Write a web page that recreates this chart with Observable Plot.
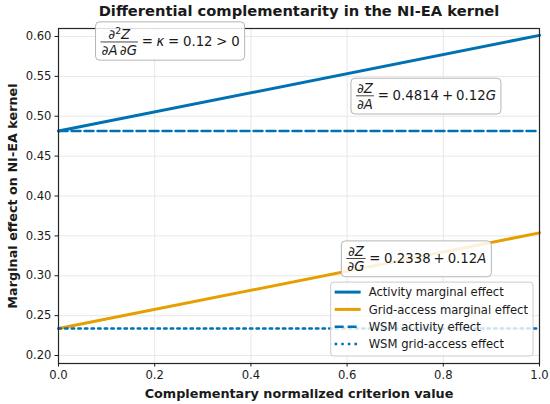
<!DOCTYPE html>
<html><head><meta charset="utf-8">
<script src="https://cdn.jsdelivr.net/npm/d3@7"></script>
<script src="https://cdn.jsdelivr.net/npm/@observablehq/plot@0.6"></script>
<style>
html,body{margin:0;padding:0;background:#fff;}
#chart svg{display:block;}
</style></head><body><div id="chart"></div>
<script>
// ---- data ----
const xValues = [0, 1];
const activityEffect = [0.4814, 0.6014];
const gridAccessEffect = [0.2338, 0.3538];
const wsmActivityEffect = [0.4814, 0.4814];
const wsmGridAccessEffect = [0.2338, 0.2338];
const xTicks = [0, 0.2, 0.4, 0.6, 0.8, 1.0];
const yTicks = [0.20, 0.25, 0.30, 0.35, 0.40, 0.45, 0.50, 0.55, 0.60];
const seriesNames = ["Activity marginal effect", "Grid-access marginal effect", "WSM activity effect", "WSM grid-access effect"];
const seriesValues = [activityEffect, gridAccessEffect, wsmActivityEffect, wsmGridAccessEffect];
const title = "Differential complementarity in the NI-EA kernel";
const xLabel = "Complementary normalized criterion value";
const yLabel = "Marginal effect on NI-EA kernel";
// annotation anchors (data coordinates) and math content
const annotations = [
  {x: 0.233, y: 0.5925, sup: true,
   num: [{t: "∂"}, {t: "2", sup: true}, {t: "Z", it: true}],
   den: [{t: "∂"}, {t: "A", it: true}, {t: "∂", dx: 0.17}, {t: "G", it: true}],
   rest: [{t: "=", dx: 0.28}, {t: "κ", it: true, dx: 0.28}, {t: "=", dx: 0.28}, {t: "0.12", dx: 0.28}, {t: ">", dx: 0.28}, {t: "0", dx: 0.28}]},
  {x: 0.765, y: 0.525,
   num: [{t: "∂"}, {t: "Z", it: true}],
   den: [{t: "∂"}, {t: "A", it: true}],
   rest: [{t: "=", dx: 0.28}, {t: "0.4814", dx: 0.28}, {t: "+", dx: 0.22}, {t: "0.12", dx: 0.22}, {t: "G", it: true}]},
  {x: 0.745, y: 0.321,
   num: [{t: "∂"}, {t: "Z", it: true}],
   den: [{t: "∂"}, {t: "G", it: true}],
   rest: [{t: "=", dx: 0.28}, {t: "0.2338", dx: 0.28}, {t: "+", dx: 0.22}, {t: "0.12", dx: 0.22}, {t: "A", it: true}]}
];

// ---- styles ----
const FONT = '"DejaVu Sans", sans-serif';
const BLUE = "#0072B2", ORANGE = "#E69F00";
const styles = [
  {stroke: BLUE, strokeWidth: 3},
  {stroke: ORANGE, strokeWidth: 3},
  {stroke: BLUE, strokeWidth: 2.5, strokeDasharray: "9,4"},
  {stroke: BLUE, strokeWidth: 2.5, strokeDasharray: "2.5,4.1"}
];

const ctx = document.createElement("canvas").getContext("2d");
function segWidth(s, fs) {
  const size = s.sup ? fs * 0.7 : fs;
  ctx.font = `${s.it ? "italic " : ""}${size}px "DejaVu Sans"`;
  return ctx.measureText(s.t).width + (s.dx || 0) * fs;
}
function segsWidth(segs, fs) { return d3.sum(segs, s => segWidth(s, fs)); }
function drawSegs(g, x, y, segs, fs) {
  let cx = x;
  for (const s of segs) {
    cx += (s.dx || 0) * fs;
    const size = s.sup ? fs * 0.7 : fs;
    const t = g.append("text").attr("x", cx).attr("y", s.sup ? y - fs * 0.42 : y)
      .attr("text-anchor", "start")
      .attr("font-size", size).attr("font-family", FONT).attr("fill", "#1a1a1a").text(s.t);
    if (s.it) t.attr("font-style", "italic");
    cx += segWidth({...s, dx: 0}, fs);
  }
}

function annotationMark(index, scales) {
  const g = d3.create("svg:g");
  const fs = 13.3, pad = 5;
  for (const a of annotations) {
    const cx = scales.x(a.x), cy = scales.y(a.y);
    const numW = segsWidth(a.num, fs), denW = segsWidth(a.den, fs);
    const fracW = Math.max(numW, denW) + 2;
    const restW = segsWidth(a.rest, fs);
    const totalW = fracW + restW;
    const left = cx - totalW / 2;
    const top = cy - 2.5 - 0.76 * fs - pad - (a.sup ? 2.5 : 0);
    const bottom = cy + 0.73 * fs + 3.5 + pad;
    g.append("rect").attr("x", left - pad).attr("y", top).attr("width", totalW + 2 * pad)
      .attr("height", bottom - top).attr("rx", 4).attr("fill", "white").attr("fill-opacity", 0.85)
      .attr("stroke", "#b5b5b5").attr("stroke-width", 1);
    drawSegs(g, left + (fracW - numW) / 2, cy - 2.5, a.num, fs);
    drawSegs(g, left + (fracW - denW) / 2, cy + 0.73 * fs + 3, a.den, fs);
    g.append("line").attr("x1", left).attr("x2", left + fracW).attr("y1", cy).attr("y2", cy)
      .attr("stroke", "#1a1a1a").attr("stroke-width", 0.8);
    drawSegs(g, left + fracW, cy + 0.31 * fs, a.rest, fs);
  }
  return g.node();
}

function legendMark(index, scales, values, dims) {
  const g = d3.create("svg:g");
  const fs = 11.6, rowH = 17.3;
  const right = dims.width - dims.marginRight - 6;
  const bottom = dims.height - dims.marginBottom - 7;
  const textW = d3.max(seriesNames, n => segWidth({t: n}, fs));
  const w = 38 + textW + 5;
  const h = 10 + (seriesNames.length - 1) * rowH + 12;
  const left = right - w, top = bottom - h;
  g.append("rect").attr("x", left).attr("y", top).attr("width", w).attr("height", h).attr("rx", 3)
    .attr("fill", "white").attr("fill-opacity", 0.8).attr("stroke", "#cccccc").attr("stroke-width", 1);
  seriesNames.forEach((n, i) => {
    const y = top + 10 + i * rowH;
    const st = styles[i];
    const ln = g.append("line").attr("x1", left + 4).attr("x2", left + 30).attr("y1", y).attr("y2", y)
      .attr("stroke", st.stroke).attr("stroke-width", st.strokeWidth);
    if (st.strokeDasharray) ln.attr("stroke-dasharray", st.strokeDasharray);
    g.append("text").attr("x", left + 38).attr("y", y + 0.36 * fs).attr("font-size", fs)
      .attr("text-anchor", "start")
      .attr("font-family", FONT).attr("fill", "#1a1a1a").text(n);
  });
  return g.node();
}

const lineMarks = seriesValues.map((vals, i) =>
  Plot.line(xValues.map((x, j) => ({x, y: vals[j]})), {x: "x", y: "y", ...styles[i]}));

const chart = Plot.plot({
  width: 550, height: 404,
  marginLeft: 58, marginRight: 11, marginTop: 28, marginBottom: 41,
  x: {domain: [0, 1]},
  y: {domain: [0.19, 0.61]},
  style: {fontFamily: FONT, fontSize: "11.6px", color: "#1a1a1a", background: "white"},
  marks: [
    Plot.gridX(xTicks, {stroke: "#e4e4e4", strokeOpacity: 1, strokeWidth: 0.9}),
    Plot.gridY(yTicks, {stroke: "#e4e4e4", strokeOpacity: 1, strokeWidth: 0.9}),
    ...lineMarks,
    Plot.frame({stroke: "#262626", strokeWidth: 1.2}),
    Plot.axisX(xTicks, {tickFormat: d3.format(".1f"), tickSize: 3.5, tickPadding: 3.5, label: null, fontSize: 11.6}),
    Plot.axisY(yTicks, {tickFormat: d3.format(".2f"), tickSize: 3.5, tickPadding: 3.5, label: null, fontSize: 11.6}),
    Plot.text([title], {text: d => d, frameAnchor: "top", lineAnchor: "middle", dy: -17.5, fontSize: 14.7, fontWeight: "bold"}),
    Plot.text([xLabel], {text: d => d, frameAnchor: "bottom", lineAnchor: "middle", dy: 30, fontSize: 12.8, fontWeight: "bold"}),
    Plot.text([yLabel], {text: d => d, frameAnchor: "left", textAnchor: "middle", lineAnchor: "middle", dx: -46, rotate: -90, fontSize: 12.8, fontWeight: "bold"}),
    annotationMark,
    legendMark
  ]
});
document.getElementById("chart").appendChild(chart);
</script></body></html>
